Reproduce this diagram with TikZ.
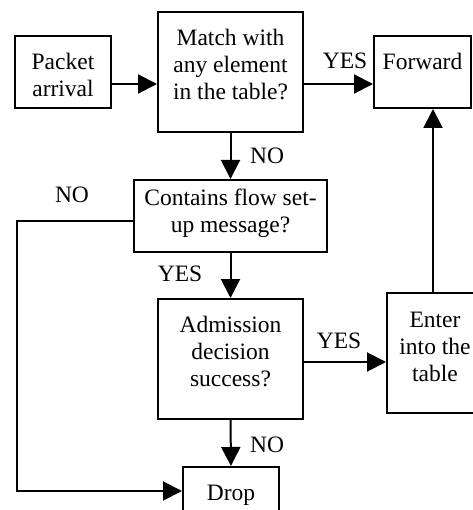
\documentclass[tikz,border=0pt]{standalone}
\usepackage{fontspec}
\setmainfont{Liberation Serif}
\usetikzlibrary{arrows.meta}
\begin{document}
\begin{tikzpicture}[x=1pt,y=-1pt,
  box/.style={draw, line width=2pt, inner sep=0pt},
  txt/.style={align=center, inner sep=0pt, font=\fontsize{23.5}{27}\selectfont},
  lbl/.style={inner sep=0pt, anchor=base, font=\fontsize{23.5}{27}\selectfont},
  arr/.style={line width=2pt, -{Triangle[length=19pt,width=19pt]}}]
\useasboundingbox (0,0) rectangle (472,510);
% boxes
\node[box, minimum width=96pt, minimum height=72pt] (packet) at (63,72) {};
\node[box, minimum width=145pt, minimum height=120pt] (match) at (230.5,72) {};
\node[box, minimum width=97pt, minimum height=72pt] (fwd) at (422.5,72) {};
\node[box, minimum width=193pt, minimum height=72pt] (cont) at (230.5,216) {};
\node[box, minimum width=145pt, minimum height=120pt] (adm) at (230.5,359) {};
\node[box, minimum width=96pt, minimum height=120pt] (enter) at (435,353) {};
\node[box, minimum width=96pt, minimum height=72pt] (drop) at (231,503) {};
% box texts
\node[txt] (packet-t) at (63,78) {\strut Packet\\\strut arrival};
\node[txt] (match-t) at (230.5,67) {\strut Match with\\\strut any element\\\strut in the table?};
\node[txt] (fwd-t) at (422.5,64.6) {\strut Forward};
\node[txt] (cont-t) at (230.5,213.5) {\strut Contains flow set-\\\strut up message?};
\node[txt] (adm-t) at (230.5,353.6) {\strut Admission\\\strut decision\\\strut success?};
\node[txt] (enter-t) at (435,348.6) {\strut Enter\\\strut into the\\\strut table};
\node[txt] (drop-t) at (231,494.6) {\strut Drop};
% labels
\node[lbl] (yes1) at (345,69) {YES};
\node[lbl] (no1) at (267,164) {NO};
\node[lbl] (no2) at (72,203) {NO};
\node[lbl] (yes2) at (180,281) {YES};
\node[lbl] (yes3) at (339,348) {YES};
\node[lbl] (no3) at (267,452) {NO};
% connectors
\coordinate (c2) at (17,491);
\draw[arr] ([yshift=-12pt]packet.east) -- ([yshift=-12pt]packet.east -| match.west);
\draw[arr] ([yshift=-12pt]match.east) -- ([yshift=-12pt]match.east -| fwd.west);
\draw[arr] (match.south) -- (cont.north);
\draw[arr] (cont.south) -- (adm.north);
\draw[arr] (adm.south) -- (drop.north);
\draw[arr] ([yshift=-3pt]adm.east) -- ([yshift=-3pt]adm.east -| enter.west);
\draw[arr] ([xshift=-2pt]enter.north) -- ([xshift=-2pt]enter.north |- fwd.south);
\draw[arr] ([yshift=-5pt]cont.west) -| (c2) -- (c2 -| drop.west);
\end{tikzpicture}
\end{document}
